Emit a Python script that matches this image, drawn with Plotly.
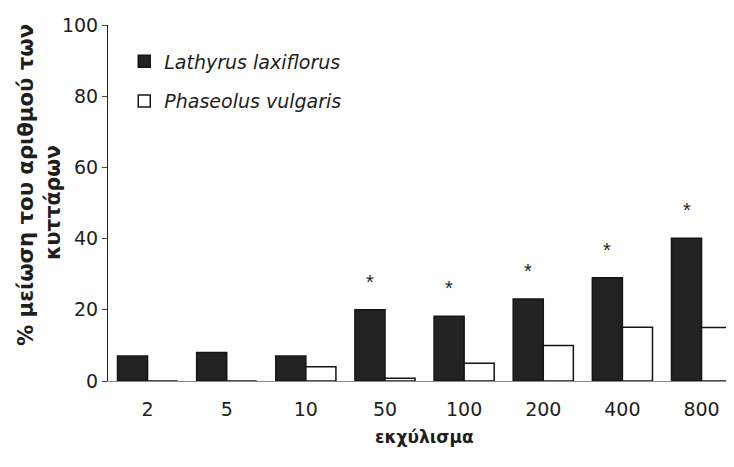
import plotly.graph_objects as go

categories = ["2", "5", "10", "50", "100", "200", "400", "800"]
lathyrus = [7, 8, 7, 20, 18.2, 23, 29, 40.1]
phaseolus = [0, 0, 4, 0.8, 5, 10, 15.1, 15]
significant = [False, False, False, True, True, True, True, True]
y_ticks = [0, 20, 40, 60, 80, 100]
y_title_lines = ["% μείωση του αριθμού των", "κυττάρων"]
x_title = "εκχύλισμα"

FONT = "DejaVu Sans, Verdana, sans-serif"
TXT = "#1e1e1e"
idx = list(range(len(categories)))

fig = go.Figure()
fig.add_trace(go.Bar(
    x=idx, y=lathyrus, name="<i>Lathyrus laxiflorus</i>", legendgroup="a",
    marker=dict(color="#222222", line=dict(color="#151515", width=1.5)),
))
fig.add_trace(go.Bar(
    x=idx, y=phaseolus, name="<i>Phaseolus vulgaris</i>", legendgroup="b",
    marker=dict(color="white", line=dict(color="#151515", width=1.5)),
))

for i, val, sig in zip(idx, lathyrus, significant):
    if sig:
        fig.add_annotation(
            x=i, y=val, xref="x", yref="y", text="*", showarrow=False,
            xshift=-15, yshift=28, font=dict(family="Liberation Sans, Arial", size=20, color=TXT),
        )

# axis titles as annotations
title_sizes = [21.2, 20.5]
title_yshift = [3, -15]
for k, line in enumerate(y_title_lines):
    fig.add_annotation(
        x=0, y=0.542, xref="paper", yref="paper", text="<b>%s</b>" % line,
        showarrow=False, textangle=-90, xanchor="center", yanchor="middle",
        xshift=-83 + 28 * k, yshift=title_yshift[k],
        font=dict(family=FONT, size=title_sizes[k], color=TXT),
    )
fig.add_annotation(
    x=0.506, y=-0.157, xref="paper", yref="paper", text="<b>%s</b>" % x_title,
    showarrow=False, xanchor="center", yanchor="middle",
    font=dict(family=FONT, size=17, color=TXT),
)

fig.update_layout(
    width=734, height=467,
    margin=dict(l=100, r=8, t=17, b=94),
    paper_bgcolor="white", plot_bgcolor="white",
    barmode="group", bargap=0.24, bargroupgap=0,
    font=dict(family=FONT, size=19, color=TXT),
    showlegend=True,
    legend=dict(
        x=0.026, y=0.951, xanchor="left", yanchor="top",
        bgcolor="rgba(0,0,0,0)", font=dict(family=FONT, size=19, color=TXT),
        itemwidth=30, tracegroupgap=12,
    ),
    xaxis=dict(
        range=[-0.5, 7.41], automargin=False,
        tickmode="array", tickvals=idx, ticktext=categories,
        showline=True, linecolor="#8a8a8a", linewidth=1,
        ticks="outside", ticklen=11, tickcolor="rgba(0,0,0,0)",
        showgrid=False, zeroline=False,
        tickfont=dict(family=FONT, size=19, color=TXT),
    ),
    yaxis=dict(
        range=[0, 100], tickvals=y_ticks, automargin=False,
        showline=True, linecolor="#222222", linewidth=1,
        ticks="outside", ticklen=5, tickcolor="#444444", showgrid=False, zeroline=False,
        tickfont=dict(family=FONT, size=19, color=TXT),
    ),
)

fig.write_html("out.html")
